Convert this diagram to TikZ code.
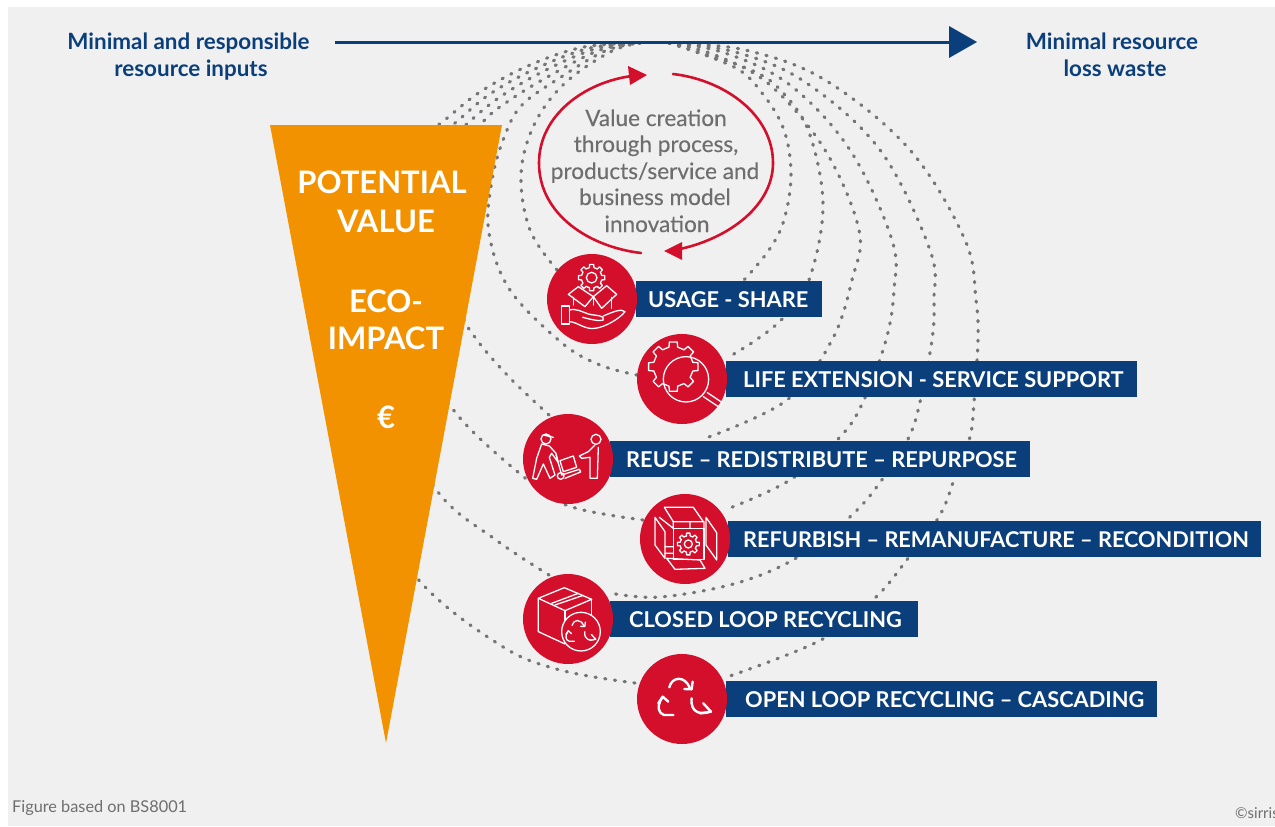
\documentclass[tikz,border=0pt]{standalone}
\usepackage{fontspec}
\setmainfont{Lato}
\definecolor{bgc}{HTML}{F0F0F0}
\definecolor{navy}{HTML}{0B3F7B}
\definecolor{redc}{HTML}{D40F2C}
\definecolor{orangec}{HTML}{F39200}
\definecolor{dotc}{HTML}{757575}
\definecolor{grayt}{HTML}{6E6E6E}
\tikzset{
 loopline/.style={draw=dotc,line width=3.2pt,line cap=round,dash pattern=on 1.2pt off 8.6pt},
 barbox/.style={fill=navy,inner sep=0pt,minimum height=36pt,anchor=west},
 bartext/.style={text=white,font=\fontsize{21.8}{22}\selectfont\bfseries,anchor=base west,inner sep=0pt},
 disc/.style={circle,fill=redc,minimum size=90pt,inner sep=0pt},
 icon/.style={draw=white,line width=1.3pt,line join=round,line cap=round},
 cyc/.style={draw=redc,line width=2.6pt,line cap=round},
 headtxt/.style={text=navy,font=\fontsize{22.4}{27}\selectfont\bfseries,anchor=base,inner sep=0pt},
 tritxt/.style={text=white,font=\fontsize{31}{31}\selectfont\bfseries,anchor=base,inner sep=0pt},
 midtxt/.style={text=grayt,font=\fontsize{22.6}{22.6}\selectfont\addfontfeature{FakeBold=0.25},anchor=base,inner sep=0pt},
 foot/.style={text=grayt,font=\fontsize{16.3}{16.3}\selectfont,inner sep=0pt,anchor=base west},
 zoomA/.style={shift={(510,240)},x=0.3333pt,y=-0.3333pt},
 zoomB/.style={shift={(510,490)},x=0.3333pt,y=-0.3333pt}
}
\newcommand{\gearpath}[5]{% cx cy outer inner teeth
 \pgfmathsetmacro{\gstep}{360/#5}
 \pgfmathsetmacro{\gw}{\gstep*0.2}
 \pgfmathsetmacro{\gv}{\gstep*0.28}
 \begin{scope}[shift={(#1,#2)}]
 \foreach \ii in {1,...,#5}{
  \pgfmathsetmacro{\ga}{\ii*\gstep}
  \pgfmathsetmacro{\gn}{\ga+\gstep}
  \draw[icon] (\ga-\gv:#4) -- (\ga-\gw:#3) -- (\ga+\gw:#3) -- (\ga+\gv:#4) -- (\gn-\gv:#4);
 }
 \end{scope}
}
\newcommand{\recyc}[1]{%
 \draw[icon,line width=#1] (-47,-33) .. controls (-40,-65) and (0,-70) .. (15,-30);
 \draw[icon,line width=#1] (-2,-28) -- (20,-27) -- (23,-50);
 \draw[icon,line width=#1] (20,0) .. controls (15,45) and (50,50) .. (75,40);
 \draw[icon,line width=#1] (55,15) -- (78,40) -- (45,45);
 \draw[icon,line width=#1] (-35,50) -- (-63,50) .. controls (-80,45) and (-85,25) .. (-70,0);
 \draw[icon,line width=#1] (-80,15) -- (-67,-5) -- (-50,10);
}
\begin{document}
\begin{tikzpicture}[x=1pt,y=-1pt]
\useasboundingbox (0,0) rectangle (1275,827);
\clip (0,0) rectangle (1275,827);
\fill[white] (0,0) rectangle (1275,827);
\fill[bgc] (8,7) rectangle (1275,826);
% dotted loops: left parts
\draw[loopline] plot[smooth,tension=0.6] coordinates {(557,270)(530,230)(521,175)(534,125)(564,84)(610,52)(640,43)};
\draw[loopline] plot[smooth,tension=0.6] coordinates {(637,375)(600,365)(562,343)(510,290)(489,233)(492,180)(505,135)(522,105)(558,79)(605,51)(640,43)};
\draw[loopline] plot[smooth,tension=0.6] coordinates {(549,415)(510,378)(477,340)(460,310)(440,240)(450,170)(482,123)(510,100)(551,75)(600,50)(640,43)};
\draw[loopline] plot[smooth,tension=0.6] coordinates {(643,520)(572,507)(530,482)(452,408)(420,330)(410,230)(430,160)(468,123)(500,97)(544,71)(595,49)(640,43)};
\draw[loopline] plot[smooth,tension=0.6] coordinates {(549,575)(496,540)(438,492)(390,400)(380,250)(410,160)(455,123)(490,94)(537,68)(590,48)(640,43)};
\draw[loopline] plot[smooth,tension=0.6] coordinates {(635,683)(560,670)(500,645)(417,578)(350,470)(330,300)(380,170)(441,123)(480,92)(530,65)(584,47)(640,43)};
% dotted loops: right parts
\draw[loopline] plot[smooth,tension=0.6] coordinates {(669,43)(734,67)(762,93)(784,130)(791,175)(784,220)(769,250)(744,280)};
\draw[loopline] plot[smooth,tension=0.6] coordinates {(669,43)(751,70)(785,95)(810,135)(823,207)(809,280)(784,317)(756,340)(727,358)};
\draw[loopline] plot[smooth,tension=0.6] coordinates {(669,43)(715,55)(770,85)(825,150)(859,230)(852,280)(832,340)(787,400)(706,438)};
\draw[loopline] plot[smooth,tension=0.6] coordinates {(669,43)(725,53)(790,85)(850,150)(892,240)(894,290)(886,340)(863,402)(840,437)(790,480)(725,510)};
\draw[loopline] plot[smooth,tension=0.6] coordinates {(669,43)(735,52)(805,82)(880,150)(930,250)(934,300)(932,340)(920,402)(909,437)(884,477)(852,515)(798,557)(737,583)(660,597)(610,593)};
\draw[loopline] plot[smooth,tension=0.6] coordinates {(669,43)(745,50)(825,80)(910,150)(965,240)(976,300)(978,340)(974,402)(970,437)(955,477)(940,515)(909,557)(875,598)(821,640)(727,677)};
% top arrow
\coordinate (arrowstart) at (335,42);
\coordinate (arrowbase) at (950,42);
\draw[navy,line width=3pt] (arrowstart) -- (arrowbase);
\fill[navy] (949,26) -- (977,42) -- (949,58) -- cycle;
\node[headtxt] (i1) at (188.5,49) {Minimal and responsible};
\node[headtxt] (i2) at (191,76) {resource inputs};
\node[headtxt] (w1) at (1112,49) {Minimal resource};
\node[headtxt] (w2) at (1115,76) {loss waste};
% triangle
\fill[orangec] (270,125) -- (502,125) -- (386,743) -- cycle;
\node[tritxt] (t1) at (382,193) {POTENTIAL};
\node[tritxt] (t2) at (386,232) {VALUE};
\node[tritxt] (t3) at (386,312) {ECO-};
\node[tritxt] (t4) at (386,349) {IMPACT};
\node[tritxt] (t5) at (386,428) {€};
% value-creation cycle
\draw[cyc] (641,253) .. controls (590,247) and (539,215) .. (539,163) .. controls (539,115) and (585,82) .. (632,76);
\fill[redc] (647,75) -- (628,66) -- (630,85) -- cycle;
\draw[cyc] (673,74) .. controls (725,80) and (773,115) .. (773,163) .. controls (773,205) and (730,238) .. (680,249);
\fill[redc] (664,251) -- (682,242) -- (682,260) -- cycle;
\node[midtxt] (m1) at (656,126) {Value creation};
\node[midtxt] (m2) at (656,152) {through process,};
\node[midtxt] (m3) at (655,179) {products/service and};
\node[midtxt] (m4) at (655,205) {business model};
\node[midtxt] (m5) at (657,232) {innovation};
% bars
\node[barbox,minimum width=186pt] (b1) at (636,299) {};
\node[barbox,minimum width=411pt] (b2) at (726,379) {};
\node[barbox,minimum width=420pt] (b3) at (610,459) {};
\node[barbox,minimum width=533pt] (b4) at (728,539) {};
\node[barbox,minimum width=308pt] (b5) at (610,619) {};
\node[barbox,minimum width=431pt] (b6) at (726,699) {};
\node[bartext] (l1) at (648,307) {USAGE - SHARE};
\node[bartext] (l2) at (743,387) {LIFE EXTENSION - SERVICE SUPPORT};
\node[bartext] (l3) at (626,467) {REUSE – REDISTRIBUTE – REPURPOSE};
\node[bartext,font=\fontsize{21.7}{22}\selectfont\bfseries] (l4) at (743,547) {REFURBISH – REMANUFACTURE – RECONDITION};
\node[bartext] (l5) at (629,627) {CLOSED LOOP RECYCLING};
\node[bartext] (l6) at (745,707) {OPEN LOOP RECYCLING – CASCADING};
% discs
\node[disc] (c1) at (592,299) {};
\node[disc] (c2) at (682,379) {};
\node[disc] (c3) at (568,459) {};
\node[disc] (c4) at (685,539) {};
\node[disc] (c5) at (568,619) {};
\node[disc] (c6) at (682,699) {};
% icons: usage
\begin{scope}[zoomA]
 \gearpath{245}{113}{40}{31}{8}
 \draw[icon] (245,113) circle[radius=16];
 \draw[icon] (175,163) -- (205,140) -- (250,170) -- (225,200) -- cycle;
 \draw[icon] (320,163) -- (290,137) -- (250,170) -- (275,205) -- cycle;
 \draw[icon] (190,172) -- (190,195) (305,172) -- (305,205) (250,170) -- (250,195);
 \draw[icon] (155,198) -- (178,198) -- (178,252) -- (155,252) -- cycle;
 \draw[icon] (178,210) .. controls (200,205) and (215,215) .. (235,222) .. controls (260,228) and (285,225) .. (280,240) .. controls (270,245) and (240,238) .. (218,232);
 \draw[icon] (178,245) .. controls (200,245) and (225,270) .. (255,265) .. controls (285,262) and (330,235) .. (345,215) .. controls (335,205) and (310,215) .. (280,228);
% life
 \gearpath{490}{380}{75}{60}{8}
 \draw[icon] (528,418) circle[radius=68];
 \draw[icon] (580,470) -- (625,500) (592,458) -- (637,488) (625,500) -- (637,488);
% reuse
 \draw[icon] (108,597) circle[radius=15];
 \draw[icon] (100,585) -- (130,592);
 \draw[icon] (95,612) -- (80,655) -- (68,715) -- (80,718) -- (100,672) -- (120,715) -- (135,705) -- (118,652) -- (125,640) -- (145,668) -- (138,640) -- (118,618) -- cycle;
 \draw[icon] (258,598) circle[radius=15];
 \draw[icon] (255,615) -- (235,635) -- (208,648) -- (215,655) -- (240,652) -- (240,715) -- (262,715) -- (265,622);
 \draw[icon] (138,645) -- (155,705) -- (208,688) -- (212,696) -- (165,715);
 \draw[icon] (152,708) circle[radius=10];
 \draw[icon] (150,662) -- (190,648) -- (200,682) -- (160,695) -- cycle;
\end{scope}
% refurbish, closed, open
\begin{scope}[zoomB]
 \draw[icon] (490,115) -- (582,115) -- (582,208) -- (490,208) -- cycle;
 \gearpath{535}{162}{33}{25}{8}
 \draw[icon] (535,162) circle[radius=12];
 \draw[icon] (463,52) -- (550,52) -- (580,95) -- (490,95) -- cycle;
 \draw[icon] (588,82) -- (620,128) -- (620,210) -- (588,165) -- cycle;
 \draw[icon] (435,82) -- (465,125) -- (465,205) -- (435,165) -- cycle;
 \draw[icon] (470,205) -- (570,210) -- (585,235) -- (495,238) -- cycle;
 \draw[icon] (448,82) -- (490,115) (490,95) -- (490,115) (540,95) -- (540,115) (582,95) -- (582,115) (465,170) -- (490,170) (465,190) -- (490,190);
 \draw[icon] (85,325) -- (163,293) -- (245,328) -- (165,362) -- cycle;
 \draw[icon] (85,325) -- (85,425) -- (165,462);
 \draw[icon] (165,362) -- (165,400) (245,328) -- (245,375);
 \draw[icon] (125,340) -- (205,310) (135,345) -- (220,316);
 \draw[icon,fill=redc] (213,425) circle[radius=58];
 \begin{scope}[shift={(213,425)},x=0.19pt,y=-0.19pt]
  \recyc{1.3pt}
 \end{scope}
 \begin{scope}[shift={(525,625)}]
  \recyc{2.4pt}
 \end{scope}
\end{scope}
% footer
\node[foot] (f1) at (12,812) {Figure based on BS8001};
\node[foot,font=\fontsize{15}{15}\selectfont] (f2) at (1235,818) {©sirris};
\end{tikzpicture}
\end{document}
